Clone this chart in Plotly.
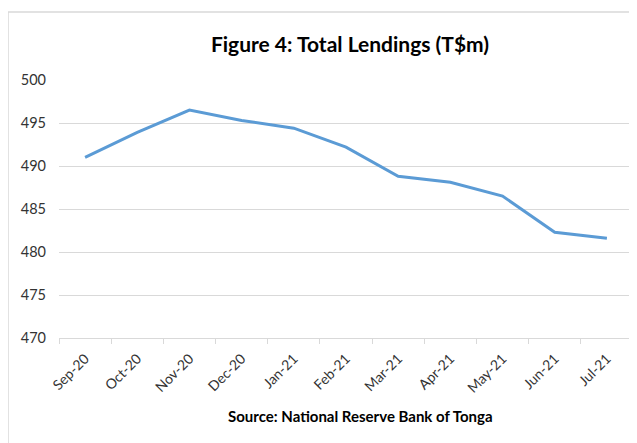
import plotly.graph_objects as go

months = ["Sep-20", "Oct-20", "Nov-20", "Dec-20", "Jan-21", "Feb-21",
          "Mar-21", "Apr-21", "May-21", "Jun-21", "Jul-21"]
lendings = [491.0, 493.9, 496.5, 495.3, 494.4, 492.2, 488.8, 488.1, 486.5, 482.3, 481.6]
y_ticks = [470, 475, 480, 485, 490, 495, 500]

W, H = 637, 443
OFF = 8  # page body offset
# target plot box in screenshot pixels
L, R, T, B = 59, 633, 80, 338
ml, mt = L - OFF, T - OFF
mr = W - (R - OFF)
mb = H - (B - OFF)
ph = H - mt - mb
pw = W - ml - mr

def px(x):
    return (x - L) / pw

def py(y):
    return (B - y) / ph

fig = go.Figure()
fig.add_trace(go.Scatter(
    x=months, y=lendings, mode="lines",
    line=dict(color="#5B9BD5", width=3),
    hoverinfo="x+y", showlegend=False,
))

fig.update_layout(
    width=W, height=H,
    margin=dict(l=ml, r=mr, t=mt, b=mb, autoexpand=False),
    paper_bgcolor="white", plot_bgcolor="white",
    font=dict(family="Lato, Carlito, Calibri, sans-serif", color="#595959"),
    title=dict(text="<b>Figure 4: Total Lendings (T$m)</b>",
               font=dict(size=21, color="black"),
               x=px(350), xref="paper", xanchor="center",
               y=1 - (45 - OFF) / H, yanchor="middle"),
    xaxis=dict(
        type="category", tickangle=-45, tickfont=dict(size=14, color="#333333"),
        showgrid=False, showline=True, linecolor="#d9d9d9", linewidth=1,
        ticks="outside", tickson="boundaries", ticklen=5, tickcolor="#d9d9d9",
        ticklabelstandoff=6,
        range=[-0.5, len(months) - 0.5], fixedrange=True, automargin=False,
    ),
    yaxis=dict(
        range=[470, 500], tickvals=y_ticks, tickfont=dict(size=14.5, color="#333333"),
        showgrid=True, gridcolor="#d9d9d9", gridwidth=1,
        zeroline=False, showline=False, ticks="", ticklabelstandoff=12,
        automargin=False,
    ),
    annotations=[dict(
        text="<b>Source: National Reserve Bank of Tonga</b>",
        xref="paper", yref="paper", x=px(360), y=py(416),
        xanchor="center", yanchor="middle", showarrow=False,
        font=dict(size=15, color="black"),
    )],
    shapes=[
        dict(type="line", xref="paper", yref="paper",
             x0=px(8), x1=px(8), y0=py(H + 20), y1=py(12),
             line=dict(color="#d9d9d9", width=1.5)),
        dict(type="line", xref="paper", yref="paper",
             x0=px(8), x1=px(W + 20), y0=py(12), y1=py(12),
             line=dict(color="#d9d9d9", width=1.5)),
    ],
)

fig.write_html("out.html")
